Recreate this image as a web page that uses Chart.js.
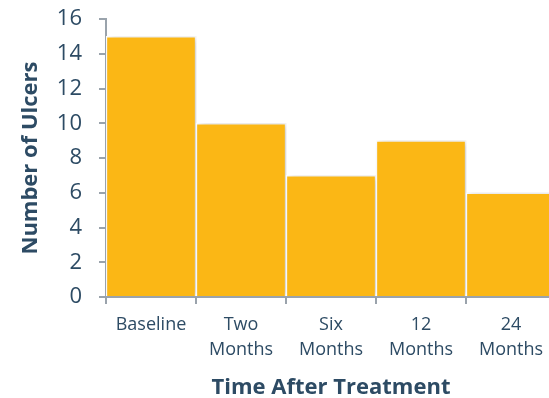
<!DOCTYPE html>
<html>
<head>
<meta charset="utf-8">
<script src="https://cdn.jsdelivr.net/npm/chart.js@4/dist/chart.umd.min.js"></script>
<style>
  html, body { margin: 0; padding: 0; background: #fff; overflow: hidden; }
  #wrap { position: relative; width: 556px; height: 398px; }
</style>
</head>
<body>
<div id="wrap"><canvas id="c"></canvas></div>
<script>
// Ulcer counts at each follow-up point
const categories = [["Baseline"], ["Two", "Months"], ["Six", "Months"], ["12", "Months"], ["24", "Months"]];
const ulcers = [15, 10, 7, 9, 6];
const yTicks = [0, 2, 4, 6, 8, 10, 12, 14, 16];

const TEXT = "#2D4B64";
const AXIS = "#9AA3AC";
const BAR = "#FBB715";
const FONT = "'Open Sans', sans-serif";

// soft drop shadow behind the bars
const barShadow = {
  id: "barShadow",
  beforeDatasetsDraw(chart) {
    const ctx = chart.ctx;
    ctx.save();
    ctx.shadowColor = "rgba(0,0,0,0.2)";
    ctx.shadowBlur = 7;
    ctx.shadowOffsetX = 3;
    ctx.shadowOffsetY = 0;
  },
  afterDatasetsDraw(chart) {
    chart.ctx.restore();
  }
};

new Chart(document.getElementById("c"), {
  type: "bar",
  data: {
    labels: categories,
    datasets: [{
      data: ulcers,
      backgroundColor: BAR,
      borderColor: "#ffffff",
      borderWidth: 1.5,
      barPercentage: 1,
      categoryPercentage: 1
    }]
  },
  options: {
    responsive: true,
    maintainAspectRatio: false,
    animation: false,
    layout: { padding: { top: 19, right: 0, left: 0, bottom: 0 } },
    plugins: { legend: { display: false }, tooltip: { enabled: false } },
    scales: {
      x: {
        grid: { display: true, drawOnChartArea: false, drawTicks: true, tickLength: 7, color: AXIS, lineWidth: 2, offset: true },
        border: { display: true, color: AXIS, width: 2 },
        ticks: { color: TEXT, font: { family: FONT, size: 18, lineHeight: 1.4 }, padding: 8, maxRotation: 0 },
        title: { display: true, text: "Time After Treatment", color: TEXT, font: { family: FONT, size: 22, weight: "bold" }, padding: { top: 0, bottom: -3 } },
        afterFit(s) { s.height = 101; }
      },
      y: {
        min: 0, max: 16,
        afterBuildTicks(s) { s.ticks = yTicks.map(v => ({ value: v })); },
        grid: { display: true, drawOnChartArea: false, drawTicks: true, tickLength: 7, color: AXIS, lineWidth: 2 },
        border: { display: true, color: AXIS, width: 2 },
        ticks: { color: TEXT, font: { family: FONT, size: 22 }, padding: 17 },
        title: { display: true, text: "Number of Ulcers", color: TEXT, font: { family: FONT, size: 22, weight: "bold" }, padding: { top: 18, bottom: 0 } },
        afterFit(s) { s.width = 106; s.paddingTop = 13; s.paddingBottom = 13; }
      }
    }
  },
  plugins: [barShadow]
});
</script>
</body>
</html>
